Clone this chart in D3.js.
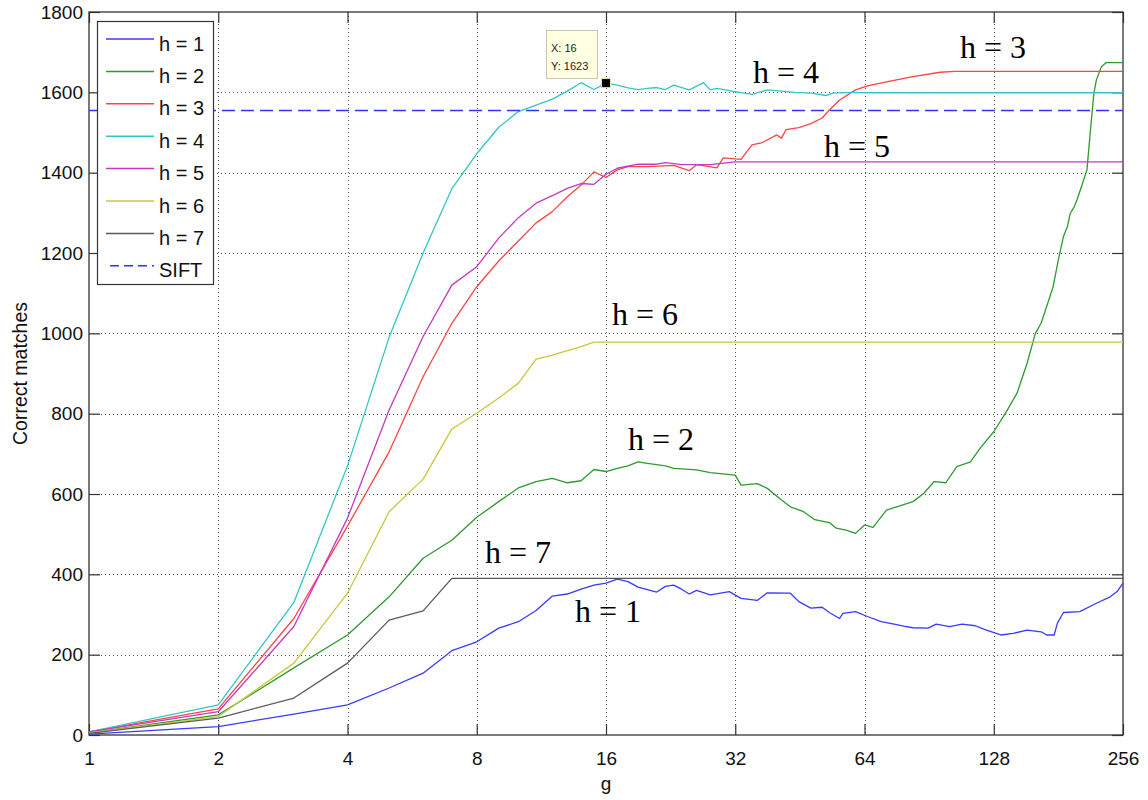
<!DOCTYPE html>
<html>
<head>
<meta charset="utf-8">
<script src="https://cdn.jsdelivr.net/npm/d3@7"></script>
<style>
  html, body { margin: 0; padding: 0; background: #fff; }
  svg { display: block; }
  text { font-family: "Liberation Sans", Arial, sans-serif; }
</style>
</head>
<body>
<svg id="chart" width="1148" height="800"></svg>
<script>
// ---------------- DATA ----------------
const xTicks = [1, 2, 4, 8, 16, 32, 64, 128, 256];
const yTicks = [0, 200, 400, 600, 800, 1000, 1200, 1400, 1600, 1800];
const seriesNames = ["h = 1", "h = 2", "h = 3", "h = 4", "h = 5", "h = 6", "h = 7"];
const siftName = "SIFT";
const siftValue = 1555;

const h1 = [[1,2],[2,21],[3,52],[4,75],[5,117],[6,154],[7,210],[8,232],[9,266],[10,282],[11,310],[12,346],[13,351],[14,363],[15,373],[16,378],[17,388],[18,382],[19,368],[21,356],[22,370],[23,373],[24,363],[25,351],[26,360],[28,349],[31,357],[33,340],[36,335],[38,354],[43,353],[45,332],[48,316],[51,318],[53,305],[56,290],[57,303],[61,307],[65,295],[70,282],[75,276],[79,271],[83,267],[90,266],[94,276],[101,270],[108,276],[116,272],[123,261],[133,249],[142,253],[153,261],[165,257],[170,249],[177,249],[180,278],[186,305],[203,307],[222,328],[239,344],[248,357],[256,378]];
const h2 = [[1,5],[2,50],[3,167],[4,249],[5,344],[6,440],[7,485],[8,542],[9,581],[10,615],[11,631],[12,639],[13,628],[14,633],[15,661],[16,656],[17,664],[18,670],[19,680],[20,676],[22,670],[23,664],[26,660],[28,653],[32,647],[33,622],[36,626],[38,614],[41,585],[43,568],[46,557],[49,536],[53,529],[55,515],[58,510],[61,502],[64,523],[67,517],[72,560],[76,568],[83,581],[88,602],[93,631],[99,628],[105,668],[113,680],[119,714],[128,755],[137,805],[145,851],[153,925],[160,1000],[165,1025],[170,1067],[176,1116],[181,1183],[186,1241],[190,1266],[193,1299],[197,1315],[200,1332],[206,1373],[211,1407],[215,1506],[219,1598],[222,1631],[228,1664],[234,1674],[256,1674]];
const h3 = [[1,8],[2,65],[3,290],[4,520],[5,705],[6,892],[7,1025],[8,1116],[9,1180],[10,1230],[11,1275],[12,1303],[13,1340],[14,1369],[15,1402],[16,1388],[17,1407],[18,1415],[20,1415],[23,1418],[25,1405],[26,1420],[29,1412],[30,1437],[33,1433],[35,1469],[37,1475],[40,1494],[41,1486],[42,1507],[45,1512],[48,1522],[51,1536],[53,1556],[56,1581],[61,1606],[65,1616],[73,1627],[83,1639],[96,1650],[104,1652],[256,1652]];
const h4 = [[1,8],[2,75],[3,330],[4,670],[5,990],[6,1200],[7,1360],[8,1447],[9,1513],[10,1552],[11,1568],[12,1583],[13,1603],[14,1624],[15,1607],[16,1623],[17,1618],[18,1611],[19,1607],[20,1610],[21,1612],[22,1607],[23,1618],[25,1606],[27,1624],[28,1606],[29,1610],[32,1602],[35,1595],[38,1606],[41,1603],[44,1600],[48,1598],[51,1594],[52,1592],[54,1598],[60,1600],[64,1599],[256,1599]];
const h5 = [[1,8],[2,58],[3,270],[4,540],[5,809],[6,992],[7,1120],[8,1166],[9,1237],[10,1288],[11,1324],[12,1343],[13,1361],[14,1373],[15,1371],[16,1396],[17,1411],[19,1421],[21,1421],[22,1425],[24,1420],[28,1420],[32,1427],[256,1427]];
const h6 = [[1,5],[2,46],[3,179],[4,353],[5,556],[6,637],[7,762],[8,801],[9,839],[10,876],[11,936],[12,946],[13,957],[14,967],[15,978],[256,978]];
const h7 = [[1,4],[2,42],[3,92],[4,179],[5,286],[6,309],[7,390],[256,390]];

const datatip = { g: 16, value: 1623 };

const labels = [
  { text: "h = 3", x: 960, y: 58 },
  { text: "h = 4", x: 753, y: 83 },
  { text: "h = 5", x: 824, y: 157 },
  { text: "h = 6", x: 612, y: 325 },
  { text: "h = 2", x: 628, y: 450 },
  { text: "h = 7", x: 485, y: 563 },
  { text: "h = 1", x: 575, y: 622 }
];

// ---------------- DRAW ----------------
const series = [h1, h2, h3, h4, h5, h6, h7];
const colors = ["#3a3aff", "#2f9a2f", "#ff4444", "#33c6c6", "#c23ac2", "#c8c83a", "#5a5a5a"];

const L = 89, R = 1123, T = 12, B = 735;
const svg = d3.select("#chart");
const x = d3.scaleLog().base(2).domain([1, 256]).range([L, R]);
const y = d3.scaleLinear().domain([0, 1800]).range([B, T]);

// grid
const grid = svg.append("g").attr("stroke", "#555").attr("stroke-width", 1).attr("stroke-dasharray", "1,3");
grid.selectAll(".gx").data(xTicks.slice(1, -1)).join("line")
  .attr("x1", d => Math.round(x(d)) + 0.5).attr("x2", d => Math.round(x(d)) + 0.5)
  .attr("y1", T).attr("y2", B);
grid.selectAll(".gy").data(yTicks.slice(1, -1)).join("line")
  .attr("y1", d => Math.round(y(d)) + 0.5).attr("y2", d => Math.round(y(d)) + 0.5)
  .attr("x1", L).attr("x2", R);

// axes
const fmt = d => String(d);
const axB = svg.append("g").attr("transform", `translate(0,${B})`)
  .call(d3.axisBottom(x).tickValues(xTicks).tickFormat(fmt).tickSizeInner(-11).tickSizeOuter(0).tickPadding(17));
const axL = svg.append("g").attr("transform", `translate(${L},0)`)
  .call(d3.axisLeft(y).tickValues(yTicks).tickFormat(fmt).tickSizeInner(-11).tickSizeOuter(0).tickPadding(6));
const axT = svg.append("g").attr("transform", `translate(0,${T})`)
  .call(d3.axisTop(x).tickValues(xTicks).tickFormat("").tickSizeInner(-11).tickSizeOuter(0));
const axR = svg.append("g").attr("transform", `translate(${R},0)`)
  .call(d3.axisRight(y).tickValues(yTicks).tickFormat("").tickSizeInner(-11).tickSizeOuter(0));
[axB, axL, axT, axR].forEach(a => {
  a.select(".domain").remove();
  a.selectAll("line").attr("stroke", "#333").attr("stroke-width", 1.2);
  a.selectAll("text").attr("fill", "#111").style("font-size", "19px").style("font-family", "'Liberation Sans', Arial, sans-serif");
});

// box
svg.append("rect").attr("x", L).attr("y", T).attr("width", R - L).attr("height", B - T)
  .attr("fill", "none").attr("stroke", "#333").attr("stroke-width", 1.3);

// lines
const line = d3.line().x(d => x(d[0])).y(d => y(d[1]));
svg.append("g").selectAll("path").data(series).join("path")
  .attr("d", line).attr("fill", "none")
  .attr("stroke", (d, i) => colors[i]).attr("stroke-width", 1.3).attr("stroke-linejoin", "round");

// SIFT
svg.append("line").attr("x1", L).attr("x2", R).attr("y1", y(siftValue)).attr("y2", y(siftValue))
  .attr("stroke", "#3333ff").attr("stroke-width", 1.5).attr("stroke-dasharray", "13,6");

// axis titles
svg.append("text").attr("x", (L + R) / 2).attr("y", 790).attr("text-anchor", "middle")
  .style("font-size", "19px").attr("fill", "#111").text("g");
svg.append("text").attr("transform", `translate(27,${(T + B) / 2}) rotate(-90)`).attr("text-anchor", "middle")
  .style("font-size", "19.5px").attr("fill", "#111").text("Correct matches");

// legend
const lg = svg.append("g");
lg.append("rect").attr("x", 97.5).attr("y", 21.5).attr("width", 116).attr("height", 263)
  .attr("fill", "#fff").attr("stroke", "#333").attr("stroke-width", 1.2);
const legItems = seriesNames.map((n, i) => ({ name: n, color: colors[i], dash: null }))
  .concat([{ name: siftName, color: "#3333ff", dash: "9,5" }]);
const ent = lg.selectAll(".ent").data(legItems).join("g")
  .attr("transform", (d, i) => `translate(0,${39 + i * 32.4})`);
ent.append("line").attr("x1", (d) => d.dash ? 110 : 106).attr("x2", 154).attr("y1", 0).attr("y2", 0)
  .attr("stroke", d => d.color).attr("stroke-width", 1.5)
  .attr("stroke-dasharray", d => d.dash);
ent.append("text").attr("x", 159).attr("y", 11.5).style("font-size", "20px").attr("fill", "#111")
  .text(d => d.name);

// annotations
svg.append("g").selectAll("text").data(labels).join("text")
  .attr("x", d => d.x).attr("y", d => d.y)
  .style("font-family", "'Liberation Serif', 'Times New Roman', serif").style("font-size", "32px")
  .attr("fill", "#000").text(d => d.text);

// datatip
const mx = x(datatip.g), my = y(datatip.value);
const tip = svg.append("g");
tip.append("rect").attr("x", 546.5).attr("y", 30.5).attr("width", 51).attr("height", 48)
  .attr("fill", "#ffffe1").attr("stroke", "#c8c8b4").attr("stroke-width", 1);
tip.append("text").attr("x", 551).attr("y", 52).style("font-size", "11px").attr("fill", "#222").text(`X: ${datatip.g}`);
tip.append("text").attr("x", 551).attr("y", 69.5).style("font-size", "11px").attr("fill", "#222").text(`Y: ${datatip.value}`);
tip.append("rect").attr("x", mx - 4.5).attr("y", my - 4.5).attr("width", 9).attr("height", 9)
  .attr("fill", "#000").attr("stroke", "#e8e0a0").attr("stroke-width", 1);
</script>
</body>
</html>
